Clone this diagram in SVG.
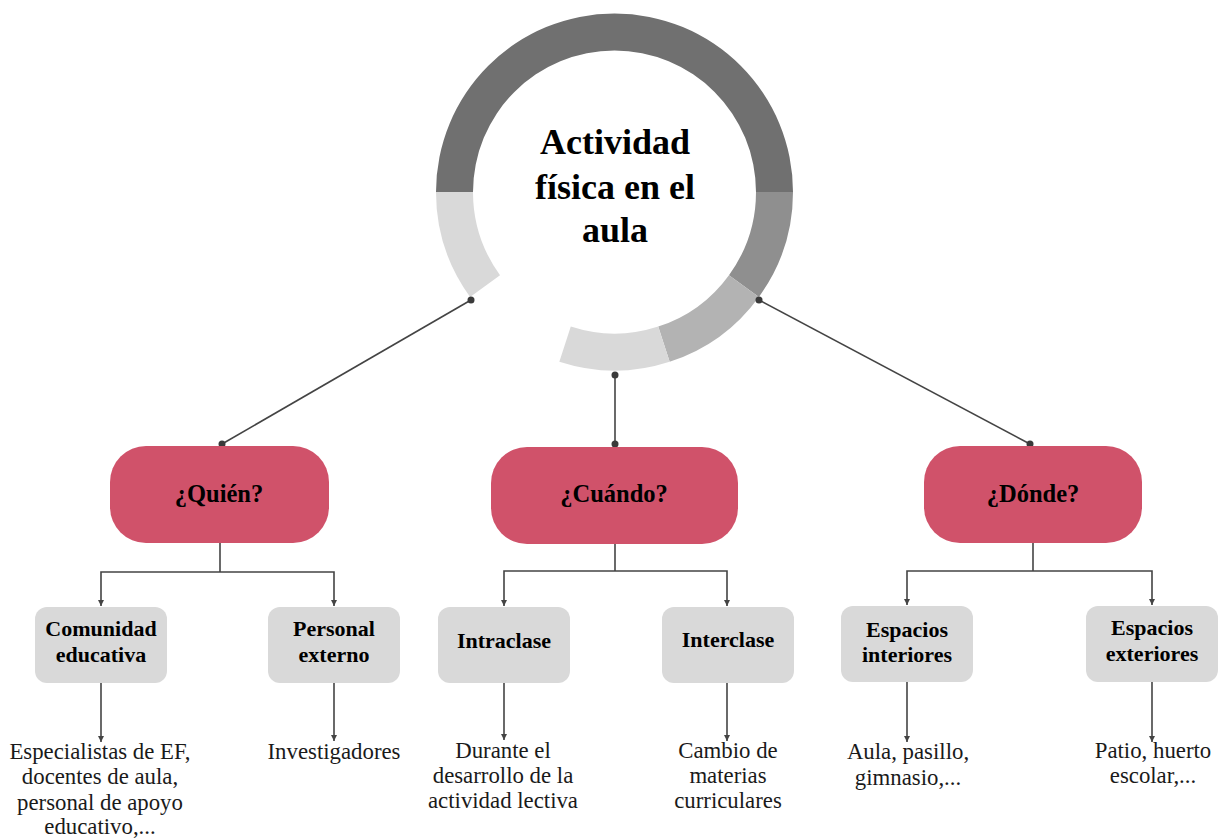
<svg xmlns="http://www.w3.org/2000/svg" width="1223" height="840" viewBox="0 0 1223 840">
  <defs>
    <style>
      .ttl { font-family: "Liberation Serif", "Times New Roman", serif; font-weight: bold; fill: #000; text-anchor: middle; }
      .main { font-size: 36px; }
      .q { font-size: 24.5px; }
      .sub { font-size: 22px; }
      .desc { font-family: "Liberation Serif", "Times New Roman", serif; font-size: 22.8px; fill: #1a1a1a; text-anchor: middle; }
      .pill { fill: #d0526a; }
      .box { fill: #d9d9d9; }
      .link { stroke: #444; stroke-width: 1.6; fill: none; }
      .dot { fill: #3a3a3a; }
    </style>
    <marker id="arrow" viewBox="0 0 10 10" refX="10" refY="5" markerWidth="6" markerHeight="6" markerUnits="userSpaceOnUse" orient="auto">
      <path d="M0,0 L10,5 L0,10 Z" fill="#444"/>
    </marker>
  </defs>

  <rect width="1223" height="840" fill="#fff"/>

  <!-- central ring made of 36-degree segments -->
  <g id="hub">
    <path d="M436,192 A178.5,178.5 0 0 1 793,192 L756,192 A141.5,141.5 0 0 0 473,192 Z" fill="#707070"/>
    <path d="M793,192 A178.5,178.5 0 0 1 758.91,296.92 L728.97,275.17 A141.5,141.5 0 0 0 756,192 Z" fill="#8f8f8f"/>
    <path d="M758.91,296.92 A178.5,178.5 0 0 1 669.66,361.77 L658.22,326.58 A141.5,141.5 0 0 0 728.97,275.17 Z" fill="#b3b3b3"/>
    <path d="M669.66,361.77 A178.5,178.5 0 0 1 559.34,361.77 L570.78,326.58 A141.5,141.5 0 0 0 658.22,326.58 Z" fill="#d9d9d9"/>
    <path d="M470.09,296.92 A178.5,178.5 0 0 1 436,192 L473,192 A141.5,141.5 0 0 0 500.03,275.17 Z" fill="#d9d9d9"/>
    <text class="ttl main" x="615" y="154">Actividad</text>
    <text class="ttl main" x="615" y="199">física en el</text>
    <text class="ttl main" x="615" y="242">aula</text>
  </g>

  <!-- connectors -->
  <g id="connectors">
    <line class="link" x1="471" y1="300" x2="222" y2="444"/>
    <line class="link" x1="615" y1="375" x2="615" y2="444"/>
    <line class="link" x1="759" y1="300" x2="1030" y2="444"/>
    <circle class="dot" cx="471" cy="300" r="3.5"/>
    <circle class="dot" cx="222" cy="444" r="3.5"/>
    <circle class="dot" cx="615" cy="375" r="3.5"/>
    <circle class="dot" cx="615" cy="444" r="3.5"/>
    <circle class="dot" cx="759" cy="300" r="3.5"/>
    <circle class="dot" cx="1030" cy="444" r="3.5"/>

    <!-- ¿Quién? branches -->
    <path class="link" d="M220,543 V572"/>
    <path class="link" d="M220,572 H101 V606" marker-end="url(#arrow)"/>
    <path class="link" d="M220,572 H334 V606" marker-end="url(#arrow)"/>
    <path class="link" d="M101,683 V742" marker-end="url(#arrow)"/>
    <path class="link" d="M334,683 V741" marker-end="url(#arrow)"/>

    <!-- ¿Cuándo? branches -->
    <path class="link" d="M615,544 V571"/>
    <path class="link" d="M615,571 H504 V606" marker-end="url(#arrow)"/>
    <path class="link" d="M615,571 H727 V606" marker-end="url(#arrow)"/>
    <path class="link" d="M504,683 V740" marker-end="url(#arrow)"/>
    <path class="link" d="M727,683 V741" marker-end="url(#arrow)"/>

    <!-- ¿Dónde? branches -->
    <path class="link" d="M1033,543 V571"/>
    <path class="link" d="M1033,571 H907 V605" marker-end="url(#arrow)"/>
    <path class="link" d="M1033,571 H1152 V605" marker-end="url(#arrow)"/>
    <path class="link" d="M907,682 V742" marker-end="url(#arrow)"/>
    <path class="link" d="M1152,682 V742" marker-end="url(#arrow)"/>
  </g>

  <!-- question nodes -->
  <g id="quien">
    <rect class="pill" x="110" y="446" width="219" height="97" rx="36"/>
    <text class="ttl q" x="219" y="502">¿Quién?</text>
  </g>
  <g id="cuando">
    <rect class="pill" x="491" y="447" width="247" height="97" rx="36"/>
    <text class="ttl q" x="614" y="502">¿Cuándo?</text>
  </g>
  <g id="donde">
    <rect class="pill" x="924" y="446" width="218" height="97" rx="36"/>
    <text class="ttl q" x="1033" y="502">¿Dónde?</text>
  </g>

  <!-- category nodes -->
  <g id="comunidad">
    <rect class="box" x="35" y="607" width="132" height="76" rx="12"/>
    <text class="ttl sub" x="101" y="636">Comunidad</text>
    <text class="ttl sub" x="101" y="662">educativa</text>
  </g>
  <g id="personal">
    <rect class="box" x="268" y="607" width="132" height="76" rx="12"/>
    <text class="ttl sub" x="334" y="636">Personal</text>
    <text class="ttl sub" x="334" y="662">externo</text>
  </g>
  <g id="intraclase">
    <rect class="box" x="438" y="607" width="132" height="76" rx="12"/>
    <text class="ttl sub" x="504" y="648">Intraclase</text>
  </g>
  <g id="interclase">
    <rect class="box" x="662" y="607" width="132" height="76" rx="12"/>
    <text class="ttl sub" x="728" y="647">Interclase</text>
  </g>
  <g id="interiores">
    <rect class="box" x="841" y="606" width="132" height="76" rx="12"/>
    <text class="ttl sub" x="907" y="637">Espacios</text>
    <text class="ttl sub" x="907" y="662">interiores</text>
  </g>
  <g id="exteriores">
    <rect class="box" x="1086" y="606" width="132" height="76" rx="12"/>
    <text class="ttl sub" x="1152" y="635">Espacios</text>
    <text class="ttl sub" x="1152" y="661">exteriores</text>
  </g>

  <!-- descriptions -->
  <g id="desc-comunidad">
    <text class="desc" x="100" y="759">Especialistas de EF,</text>
    <text class="desc" x="100" y="784">docentes de aula,</text>
    <text class="desc" x="100" y="810">personal de apoyo</text>
    <text class="desc" x="100" y="834">educativo,...</text>
  </g>
  <g id="desc-personal">
    <text class="desc" x="334" y="759">Investigadores</text>
  </g>
  <g id="desc-intraclase">
    <text class="desc" x="503" y="758">Durante el</text>
    <text class="desc" x="503" y="783">desarrollo de la</text>
    <text class="desc" x="503" y="808">actividad lectiva</text>
  </g>
  <g id="desc-interclase">
    <text class="desc" x="728" y="758">Cambio de</text>
    <text class="desc" x="728" y="783">materias</text>
    <text class="desc" x="728" y="808">curriculares</text>
  </g>
  <g id="desc-interiores">
    <text class="desc" x="908" y="759">Aula, pasillo,</text>
    <text class="desc" x="908" y="785">gimnasio,...</text>
  </g>
  <g id="desc-exteriores">
    <text class="desc" x="1153" y="758">Patio, huerto</text>
    <text class="desc" x="1153" y="783">escolar,...</text>
  </g>
</svg>
